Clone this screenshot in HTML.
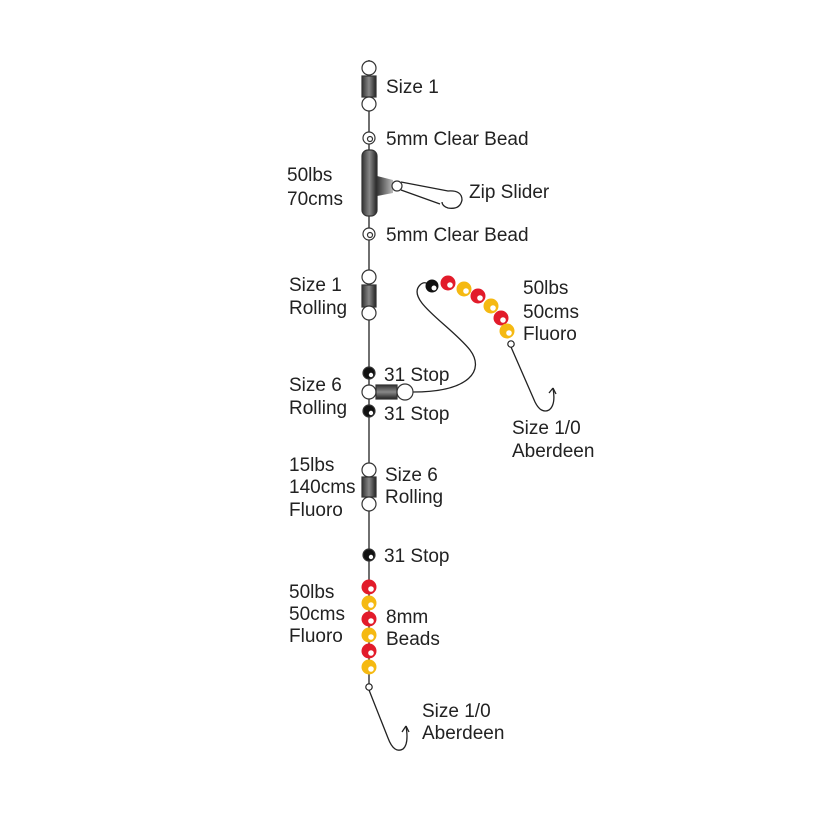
<!DOCTYPE html>
<html><head><meta charset="utf-8"><style>
html,body{margin:0;padding:0;background:#fff;}
text{font-family:"Liberation Sans",Arial,sans-serif;font-size:19px;fill:#222;}
</style></head><body>
<svg width="832" height="832" viewBox="0 0 832 832" xmlns="http://www.w3.org/2000/svg">
<defs>
<linearGradient id="bar" x1="0" x2="1" y1="0" y2="0">
<stop offset="0" stop-color="#333"/><stop offset="0.5" stop-color="#888"/><stop offset="1" stop-color="#222"/>
</linearGradient>
<linearGradient id="barh" x1="0" x2="0" y1="0" y2="1">
<stop offset="0" stop-color="#333"/><stop offset="0.5" stop-color="#888"/><stop offset="1" stop-color="#222"/>
</linearGradient>
<linearGradient id="arm" x1="0" x2="1">
<stop offset="0" stop-color="#333"/><stop offset="1" stop-color="#bbb"/>
</linearGradient>
</defs>
<g stroke="#222" stroke-width="1.3" fill="none">
<line x1="369" y1="60" x2="369" y2="684"/>
<path d="M369 690 L388 738 Q394 754 403 749 Q409 744 406 726"/>
<path d="M406 726 l-4 6 M406 726 l3 6"/>
<path d="M413 392 C470 392 485 370 470 350 C450 325 405 300 420 285 Q425 280 430 286"/>
<path d="M511 347 L535 402 Q541 414 549 410 Q556 405 553 388"/>
<path d="M553 388 l-4 5 M553 388 l3 6"/>
<path d="M401 182 L448 191 Q462 190 462 200 Q460 210 448 208 Q442 206 442 202 M401 190 L440 204"/>
</g>
<g stroke="#333" stroke-width="1.2">
<circle cx="369" cy="68" r="7" fill="#fff"/>
<rect x="362" y="76" width="14" height="21" fill="url(#bar)"/>
<circle cx="369" cy="104" r="7" fill="#fff"/>
<circle cx="369" cy="138" r="6" fill="#fff"/><circle cx="370" cy="139" r="2.5" fill="#fff"/>
<rect x="362" y="150" width="15" height="66" rx="6" fill="url(#bar)"/>
<path d="M377 176 L393 180 L393 193 L377 196 Z" fill="url(#arm)" stroke="none"/>
<circle cx="397" cy="186" r="5" fill="#fff"/>
<circle cx="369" cy="234" r="6" fill="#fff"/><circle cx="370" cy="235" r="2.5" fill="#fff"/>
<circle cx="369" cy="277" r="7" fill="#fff"/>
<rect x="362" y="285" width="14" height="22" fill="url(#bar)"/>
<circle cx="369" cy="313" r="7" fill="#fff"/>
<circle cx="369" cy="373" r="6" fill="#111"/><circle cx="371" cy="375" r="2.2" fill="#fff" stroke="none"/>
<circle cx="369" cy="392" r="7" fill="#fff"/>
<rect x="376" y="385" width="21" height="14" fill="url(#barh)"/>
<circle cx="405" cy="392" r="8" fill="#fff"/>
<circle cx="369" cy="411" r="6" fill="#111"/><circle cx="371" cy="413" r="2.2" fill="#fff" stroke="none"/>
<circle cx="369" cy="470" r="7" fill="#fff"/>
<rect x="362" y="477" width="14" height="20" fill="url(#bar)"/>
<circle cx="369" cy="504" r="7" fill="#fff"/>
<circle cx="369" cy="555" r="6" fill="#111"/><circle cx="371" cy="557" r="2.2" fill="#fff" stroke="none"/>
</g>
<g stroke="none">
<circle cx="369" cy="587" r="7.5" fill="#e21b2a"/><circle cx="371" cy="589" r="2.8" fill="#fff"/>
<circle cx="369" cy="603" r="7.5" fill="#f5b912"/><circle cx="371" cy="605" r="2.8" fill="#fff"/>
<circle cx="369" cy="619" r="7.5" fill="#e21b2a"/><circle cx="371" cy="621" r="2.8" fill="#fff"/>
<circle cx="369" cy="635" r="7.5" fill="#f5b912"/><circle cx="371" cy="637" r="2.8" fill="#fff"/>
<circle cx="369" cy="651" r="7.5" fill="#e21b2a"/><circle cx="371" cy="653" r="2.8" fill="#fff"/>
<circle cx="369" cy="667" r="7.5" fill="#f5b912"/><circle cx="371" cy="669" r="2.8" fill="#fff"/>
</g>
<circle cx="369" cy="687" r="3.2" fill="#fff" stroke="#222" stroke-width="1.2"/>
<g stroke="none">
<circle cx="432" cy="286" r="6.5" fill="#111"/><circle cx="434" cy="288" r="2.5" fill="#fff"/>
<circle cx="448" cy="283" r="7.5" fill="#e21b2a"/><circle cx="450" cy="285" r="2.8" fill="#fff"/>
<circle cx="464" cy="289" r="7.5" fill="#f5b912"/><circle cx="466" cy="291" r="2.8" fill="#fff"/>
<circle cx="478" cy="296" r="7.5" fill="#e21b2a"/><circle cx="480" cy="298" r="2.8" fill="#fff"/>
<circle cx="491" cy="306" r="7.5" fill="#f5b912"/><circle cx="493" cy="308" r="2.8" fill="#fff"/>
<circle cx="501" cy="318" r="7.5" fill="#e21b2a"/><circle cx="503" cy="320" r="2.8" fill="#fff"/>
<circle cx="507" cy="331" r="7.5" fill="#f5b912"/><circle cx="509" cy="333" r="2.8" fill="#fff"/>
</g>
<circle cx="511" cy="344" r="3.2" fill="#fff" stroke="#222" stroke-width="1.2"/>
<g>
<text x="386" y="93">Size 1</text>
<text x="386" y="145">5mm Clear Bead</text>
<text x="287" y="181">50lbs</text>
<text x="287" y="205">70cms</text>
<text x="469" y="198">Zip Slider</text>
<text x="386" y="241">5mm Clear Bead</text>
<text x="289" y="291">Size 1</text>
<text x="289" y="314">Rolling</text>
<text x="523" y="294">50lbs</text>
<text x="523" y="318">50cms</text>
<text x="523" y="340">Fluoro</text>
<text x="384" y="381">31 Stop</text>
<text x="289" y="391">Size 6</text>
<text x="289" y="414">Rolling</text>
<text x="384" y="420">31 Stop</text>
<text x="512" y="434">Size 1/0</text>
<text x="512" y="457">Aberdeen</text>
<text x="289" y="471">15lbs</text>
<text x="289" y="493">140cms</text>
<text x="289" y="516">Fluoro</text>
<text x="385" y="481">Size 6</text>
<text x="385" y="503">Rolling</text>
<text x="384" y="562">31 Stop</text>
<text x="289" y="598">50lbs</text>
<text x="289" y="620">50cms</text>
<text x="289" y="642">Fluoro</text>
<text x="386" y="623">8mm</text>
<text x="386" y="645">Beads</text>
<text x="422" y="717">Size 1/0</text>
<text x="422" y="739">Aberdeen</text>
</g>
</svg>
</body></html>
